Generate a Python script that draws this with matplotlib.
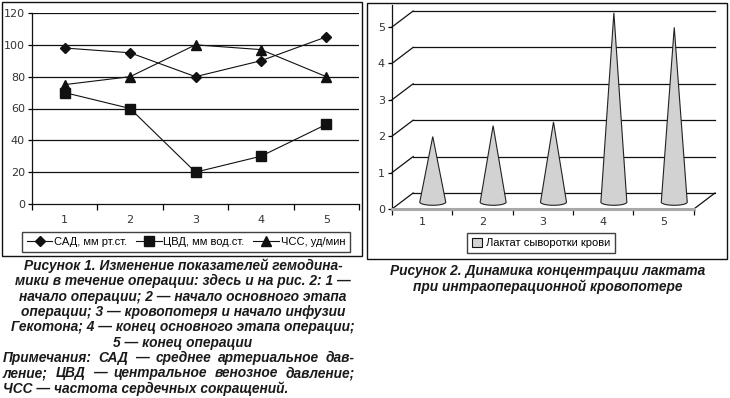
import matplotlib
matplotlib.use("Agg")
import matplotlib.pyplot as plt
from matplotlib.patches import Rectangle, Polygon
from matplotlib.lines import Line2D
import numpy as np

W, H = 730, 398

# Figure 1: haemodynamics by stage
stages = [1, 2, 3, 4, 5]
sad = [98, 95, 80, 90, 105]
cvd = [70, 60, 20, 30, 50]
chss = [75, 80, 100, 97, 80]
series_labels = ["САД, мм рт.ст.", "ЦВД, мм вод.ст.", "ЧСС, уд/мин"]

# Figure 2: lactate by stage
lactate = [1.8, 2.1, 2.2, 5.2, 4.8]
lactate_label = "Лактат сыворотки крови"

caption1_centered = [
    "Рисунок 1. Изменение показателей гемодина-",
    "мики в течение операции: здесь и на рис. 2: 1 —",
    "начало операции; 2 — начало основного этапа",
    "операции; 3 — кровопотеря и начало инфузии",
    "Гекотона; 4 — конец основного этапа операции;",
    "5 — конец операции",
]
caption1_notes = [
    "Примечания: САД — среднее артериальное дав-",
    "ление; ЦВД — центральное венозное давление;",
    "ЧСС — частота сердечных сокращений.",
]
caption2 = [
    "Рисунок 2. Динамика концентрации лактата",
    "при интраоперационной кровопотере",
]

TXT = "#1a1a1a"
CAP = dict(family="Liberation Sans", weight="bold", style="italic",
           fontsize=9.9, color=TXT)


def box(x0, y0, x1, y1):
    return [x0 / W, 1 - y1 / H, (x1 - x0) / W, (y1 - y0) / H]


fig = plt.figure(figsize=(W / 100, H / 100), dpi=100)
fig.patch.set_facecolor("white")

# panel frames
for x0, y0, x1, y1 in [(2, 2, 362, 256), (367, 3, 727, 259)]:
    fig.add_artist(Rectangle((x0 / W, 1 - y1 / H), (x1 - x0) / W, (y1 - y0) / H,
                             transform=fig.transFigure, fill=False,
                             edgecolor="#111", lw=1.0))

# ---------------- left chart ----------------
ax1 = fig.add_axes(box(32, 13, 359, 204))
ax1.set_xlim(0.5, 5.5)
ax1.set_ylim(0, 120)
for g in range(20, 121, 20):
    ax1.axhline(g, color="#111", lw=0.9, zorder=1)
ax1.plot(stages, sad, color="#111", lw=0.8, marker="D", ms=5, zorder=3)
ax1.plot(stages, cvd, color="#111", lw=0.8, marker="s", ms=7, zorder=3)
ax1.plot(stages, chss, color="#111", lw=0.8, marker="^", ms=7.5, zorder=3)
for s in ["top", "right"]:
    ax1.spines[s].set_visible(False)
for s in ["left", "bottom"]:
    ax1.spines[s].set_color("#111")
    ax1.spines[s].set_linewidth(0.9)
ax1.set_yticks(range(0, 121, 20))
ax1.tick_params(axis="y", length=3, width=0.9, pad=2, labelsize=8, labelcolor="#333")
ax1.set_xticks(np.arange(0.5, 5.6, 1))
ax1.set_xticklabels([])
ax1.set_xticks(stages, minor=True)
ax1.set_xticklabels([str(s) for s in stages], minor=True)
ax1.tick_params(axis="x", which="major", length=4, width=0.9)
ax1.tick_params(axis="x", which="minor", length=0, pad=8, labelsize=8, labelcolor="#333")
for lab in ax1.get_xticklabels(minor=True) + ax1.get_yticklabels():
    lab.set_family("DejaVu Sans")

h1 = [Line2D([], [], color="#111", lw=0.8, marker=m, ms=ms)
      for m, ms in [("D", 5), ("s", 7), ("^", 7.5)]]
leg1 = fig.legend(h1, series_labels, loc="center", ncol=3,
                  bbox_to_anchor=((22 + 350) / 2 / W, 1 - 242 / H),
                  prop={"family": "Liberation Sans", "size": 8},
                  frameon=True, fancybox=False, edgecolor="#111",
                  handlelength=2.3, handletextpad=0.15, columnspacing=0.8,
                  borderpad=0.45, borderaxespad=0)
leg1.get_frame().set_linewidth(1.0)

# ---------------- right chart (3-D cones) ----------------
dx, dy = 0.35, 0.44          # depth offset in data units
ax2 = fig.add_axes(box(392, 2, 715, 209))
ax2.set_xlim(0.5, 5.5 + dx)
ax2.set_ylim(0, 207 / 36.4)
ax2.patch.set_visible(False)
for s in ["top", "right"]:
    ax2.spines[s].set_visible(False)
ax2.spines["left"].set_color("#111")
ax2.spines["left"].set_linewidth(0.9)
ax2.spines["left"].set_bounds(0, 5.6)
ax2.spines["bottom"].set_color("#a8a8a8")
ax2.spines["bottom"].set_linewidth(2.2)
ax2.spines["bottom"].set_bounds(0.5, 5.5)
ax2.set_yticks(range(0, 6))
ax2.tick_params(axis="y", length=3, width=0.9, pad=2, labelsize=8, labelcolor="#333")
ax2.set_xticks(np.arange(0.5, 5.6, 1))
ax2.set_xticklabels([])
ax2.set_xticks(stages, minor=True)
ax2.set_xticklabels([str(s) for s in stages], minor=True)
ax2.tick_params(axis="x", which="major", length=4, width=0.9, color="#111")
ax2.tick_params(axis="x", which="minor", length=0, pad=6, labelsize=8, labelcolor="#333")
for lab in ax2.get_xticklabels(minor=True) + ax2.get_yticklabels():
    lab.set_family("DejaVu Sans")

# walls / gridlines
for v in range(0, 6):
    ax2.plot([0.5, 0.5 + dx], [v, v + dy], color="#111", lw=0.9, clip_on=False)
    ax2.plot([0.5 + dx, 5.5 + dx], [v + dy, v + dy], color="#111", lw=0.9, clip_on=False)
ax2.plot([5.5, 5.5 + dx], [0, dy], color="#111", lw=0.9, clip_on=False)

# cones
rw = 13 / 60.4
eh = 3.2 / 36.4
t = np.linspace(np.pi, 2 * np.pi, 40)
for s, v in zip(stages, lactate):
    cx = s + dx / 2
    by = dy / 2 - 0.03
    pts = [(cx, by + v)]
    pts += list(zip(cx + rw * np.cos(t), by + eh * np.sin(t)))
    ax2.add_patch(Polygon(pts, closed=True, facecolor="#d2d2d2",
                          edgecolor="#222", lw=0.8, zorder=3, clip_on=False))

h2 = [Rectangle((0, 0), 1, 1, facecolor="#d2d2d2", edgecolor="#111", lw=0.8)]
leg2 = fig.legend(h2, [lactate_label], loc="center",
                  bbox_to_anchor=(541 / W, 1 - 243 / H),
                  prop={"family": "Liberation Sans", "size": 8},
                  frameon=True, fancybox=False, edgecolor="#111",
                  handlelength=0.9, handleheight=0.9, handletextpad=0.3,
                  borderpad=0.45, borderaxespad=0)
leg2.get_frame().set_linewidth(1.0)

# ---------------- captions ----------------
renderer = fig.canvas.get_renderer()


def justified(text, y, x0, x1):
    words = text.split(" ")
    arts = [fig.text(0, 1 - y / H, w, ha="left", va="center", **CAP) for w in words]
    widths = [a.get_window_extent(renderer).width for a in arts]
    gap = (x1 - x0 - sum(widths)) / (len(words) - 1)
    x = x0
    for a, w in zip(arts, widths):
        a.set_x(x / W)
        x += w + gap


line_h = 15.3
y = 266
for line in caption1_centered:
    fig.text(183 / W, 1 - y / H, line, ha="center", va="center", **CAP)
    y += line_h
justified(caption1_notes[0], y, 3, 355)
y += line_h
justified(caption1_notes[1], y, 3, 355)
y += line_h
fig.text(3 / W, 1 - y / H, caption1_notes[2], ha="left", va="center", **CAP)

y = 271
for line in caption2:
    fig.text(548 / W, 1 - y / H, line, ha="center", va="center", **CAP)
    y += line_h

fig.savefig("out.png", dpi=100, facecolor="white")
